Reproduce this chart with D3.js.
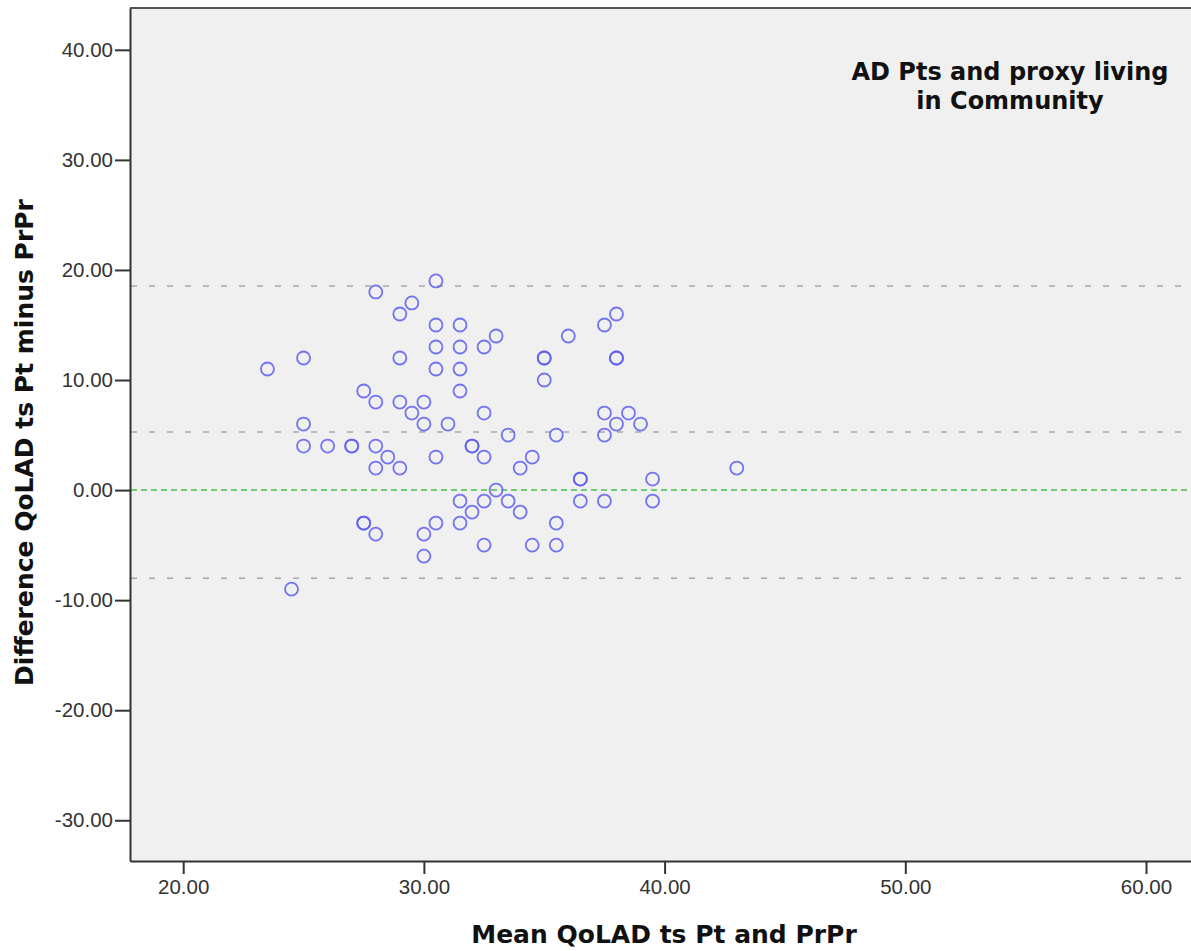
<!DOCTYPE html>
<html>
<head>
<meta charset="utf-8">
<script src="https://cdn.jsdelivr.net/npm/d3@7"></script>
<style>
  html, body { margin: 0; padding: 0; background: #ffffff; }
  svg { display: block; }
</style>
</head>
<body>
<div id="chart"></div>
<script>
// Mean of the two QoLAD scores (x) and their difference (y)
const meanValues = [
  23.5, 25, 25, 25, 26, 27, 27, 24.5, 27.5, 27.5, 27.5, 28, 28, 28, 28, 28, 28.5,
  29, 29.5, 29, 29, 29.5, 29, 30, 30, 30, 30, 30.5, 30.5, 30.5, 30.5, 30.5, 30.5,
  31, 31.5, 31.5, 31.5, 31.5, 31.5, 31.5, 32, 32, 32, 32.5, 32.5, 32.5, 33, 32.5,
  32.5, 33, 33.5, 33.5, 34, 34, 34.5, 34.5, 35, 35, 35, 35.5, 35.5, 35.5, 36,
  36.5, 36.5, 36.5, 37.5, 38, 38, 38, 37.5, 37.5, 38, 38.5, 39, 37.5, 39.5, 39.5, 43
];
const diffValues = [
  11, 12, 6, 4, 4, 4, 4, -9, 9, -3, -3, 18, 8, 4, 2, -4, 3,
  16, 17, 12, 8, 7, 2, 8, 6, -4, -6, 19, 15, 13, 11, 3, -3,
  6, 15, 13, 11, 9, -1, -3, 4, 4, -2, 3, 7, 13, 14, -1,
  -5, 0, 5, -1, 2, -2, 3, -5, 12, 12, 10, 5, -3, -5, 14,
  1, 1, -1, 15, 16, 12, 12, 7, 5, 6, 7, 6, -1, 1, -1, 2
];
// Reference lines: mean difference and limits of agreement, plus zero
const meanDiff = 5.27;
const upperLimit = 18.55;
const lowerLimit = -8.01;
const zeroLine = 0;

const xTicks = [20, 30, 40, 50, 60];
const yTicks = [-30, -20, -10, 0, 10, 20, 30, 40];
const xDomain = [17.79, 62.16];
const yDomain = [-33.7, 43.8];

const legendLines = ["AD Pts and proxy living", "in Community"];
const xTitle = "Mean QoLAD ts Pt and PrPr";
const yTitle = "Difference QoLAD ts Pt minus PrPr";

const W = 1191, H = 951;
const plot = { left: 130, top: 8, right: 1198, bottom: 861 };

const svg = d3.select("#chart").append("svg")
  .attr("width", W).attr("height", H);

const x = d3.scaleLinear().domain(xDomain).range([plot.left, plot.right]);
const y = d3.scaleLinear().domain(yDomain).range([plot.bottom, plot.top]);

// Plot background
svg.append("rect")
  .attr("x", plot.left).attr("y", plot.top)
  .attr("width", plot.right - plot.left).attr("height", plot.bottom - plot.top)
  .attr("fill", "#f0f0f0");

// Reference lines
const refG = svg.append("g");
[upperLimit, meanDiff, lowerLimit].forEach(v => {
  refG.append("line")
    .attr("x1", plot.left + 1).attr("x2", plot.right)
    .attr("y1", y(v)).attr("y2", y(v))
    .attr("stroke", "#a8a8a8").attr("stroke-width", 1.5)
    .attr("stroke-dasharray", "6,12");
});
refG.append("line")
  .attr("x1", plot.left + 1).attr("x2", plot.right)
  .attr("y1", y(zeroLine)).attr("y2", y(zeroLine))
  .attr("stroke", "#46c046").attr("stroke-width", 1.5)
  .attr("stroke-dasharray", "6,4");

// Points
const pts = meanValues.map((m, i) => ({ m: m, d: diffValues[i] }));
svg.append("g").selectAll("circle").data(pts).enter().append("circle")
  .attr("cx", d => x(d.m)).attr("cy", d => y(d.d)).attr("r", 6.5)
  .attr("fill", "none").attr("stroke", "#5c5cf4").attr("stroke-width", 1.8)
  .attr("stroke-opacity", 0.85);

// Frame: top border
svg.append("line")
  .attr("x1", plot.left).attr("x2", plot.right)
  .attr("y1", plot.top).attr("y2", plot.top)
  .attr("stroke", "#555").attr("stroke-width", 2);

// Axes
const fmt = v => d3.format(".2f")(v).replace("\u2212", "-");
const tickFont = "'Liberation Sans', Arial, sans-serif";
const xAxis = svg.append("g")
  .attr("transform", `translate(0,${plot.bottom})`)
  .call(d3.axisBottom(x).tickValues(xTicks).tickFormat(fmt).tickSize(13).tickPadding(5).tickSizeOuter(0));
const yAxis = svg.append("g")
  .attr("transform", `translate(${plot.left},0)`)
  .call(d3.axisLeft(y).tickValues(yTicks).tickFormat(fmt).tickSize(15).tickPadding(2).tickSizeOuter(0));

[xAxis, yAxis].forEach(a => {
  a.select(".domain").attr("stroke", "#333").attr("stroke-width", 2);
  a.selectAll(".tick line").attr("stroke", "#333").attr("stroke-width", 2);
  a.selectAll(".tick text").attr("fill", "#333")
    .style("font-family", tickFont).style("font-size", "20.5px");
});

// Axis titles
svg.append("text")
  .attr("x", (plot.left + plot.right) / 2).attr("y", 943)
  .attr("text-anchor", "middle")
  .style("font-family", "'DejaVu Sans', sans-serif").style("font-weight", "bold")
  .style("font-size", "25px").attr("fill", "#111")
  .text(xTitle);

svg.append("text")
  .attr("transform", `translate(33,${(plot.top + plot.bottom) / 2 + 8}) rotate(-90)`)
  .attr("text-anchor", "middle")
  .style("font-family", "'DejaVu Sans', sans-serif").style("font-weight", "bold")
  .style("font-size", "25px").attr("fill", "#111")
  .text(yTitle);

// Legend-style annotation
const lg = svg.append("text")
  .attr("text-anchor", "middle")
  .style("font-family", "'DejaVu Sans', sans-serif").style("font-weight", "bold")
  .style("font-size", "24px").attr("fill", "#111");
legendLines.forEach((t, i) => {
  lg.append("tspan").attr("x", 1010).attr("y", 80 + i * 29).text(t);
});
</script>
</body>
</html>
